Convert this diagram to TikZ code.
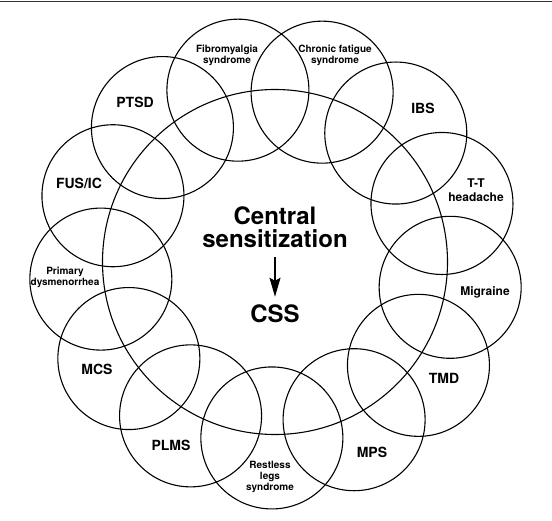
\documentclass[tikz,border=0pt]{standalone}
\usepackage{fontspec}
\setmainfont{TeX Gyre Heros}
\usetikzlibrary{arrows.meta}
\begin{document}
\begin{tikzpicture}[x=1pt,y=-1pt,
  small/.style={circle,draw=black,line width=1.1pt,minimum size=142pt,inner sep=0pt},
  big/.style={circle,draw=black,line width=1.1pt,minimum size=345pt,inner sep=0pt},
  lbig/.style={font=\fontsize{14}{16}\selectfont\bfseries,align=center,inner sep=0pt},
  lmid/.style={font=\fontsize{12}{14}\selectfont\bfseries,align=center,inner sep=0pt},
  lsmall/.style={font=\fontsize{10}{11}\selectfont\bfseries,align=center,inner sep=0pt},
  lcenter/.style={font=\fontsize{24}{23.5}\selectfont\bfseries,align=center,inner sep=0pt},
  topline/.style={line width=1.5pt,draw=black!80}]
\useasboundingbox (0,0) rectangle (552,521);
\coordinate (tl) at (0,1.5);
\coordinate (tr) at (552,1.5);
\draw[topline] (tl) -- (tr);
\node[big] (bigc) at (275,262) {};
\foreach \n/\a in {fib/0, cfs/1, ibs/2, tth/3, mig/4, tmd/5, mps/6, rls/7, plms/8, mcs/9, pd/10, fus/11, ptsd/12}
  \node[small] (c-\n) at ({276+176*cos(-102.5+27.6923*\a)}, {262+176*sin(-102.5+27.6923*\a)}) {};
\node[lsmall] (l-fib) at (227,55) {Fibromyalgia\\syndrome};
\node[lsmall] (l-cfs) at (335,55) {Chronic fatigue\\syndrome};
\node[lbig] (l-ibs) at (423,108) {IBS};
\node[lmid] (l-tth) at (476,190) {T-T\\headache};
\node[lmid] (l-mig) at (485,292) {Migraine};
\node[lbig] (l-tmd) at (444,378) {TMD};
\node[lbig] (l-mps) at (372,452) {MPS};
\node[lsmall] (l-rls) at (270,477) {Restless\\legs\\syndrome};
\node[lbig] (l-plms) at (171,445) {PLMS};
\node[lbig] (l-mcs) at (97,369) {MCS};
\node[lsmall] (l-pd) at (65,277) {Primary\\dysmenorrhea};
\node[lbig] (l-fus) at (79,183) {FUS/IC};
\node[lbig] (l-ptsd) at (135,102) {PTSD};
\node[lcenter] (cs) at (275,227) {Central\\sensitization};
\node[lcenter] (css) at (275,314) {CSS};
\draw[line width=1.5pt,-{Stealth[length=19pt,width=11pt,inset=3pt]},shorten <=9pt,shorten >=8pt] (cs) -- (css);
\end{tikzpicture}
\end{document}
